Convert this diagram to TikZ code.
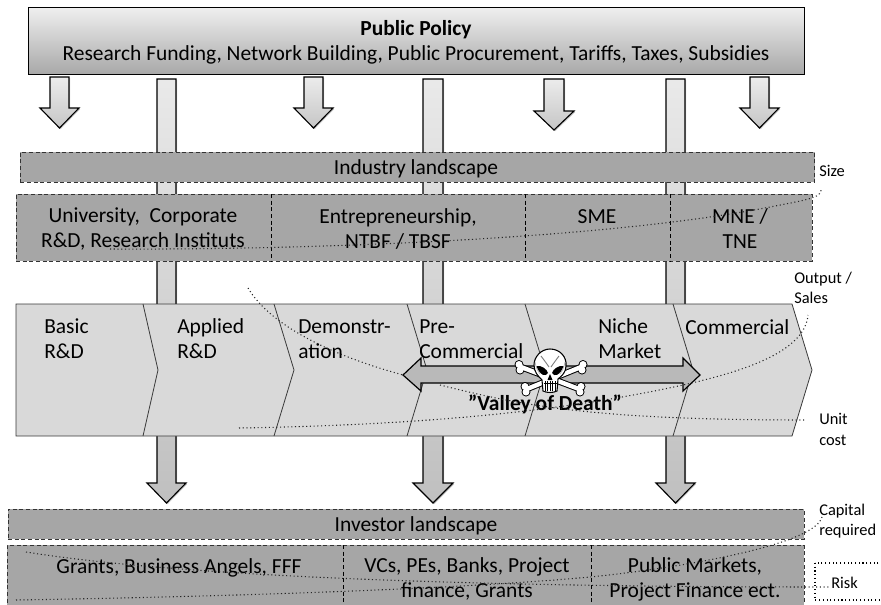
\documentclass[tikz,border=0pt]{standalone}
\usepackage{fontspec}
\setmainfont{Carlito}
\usetikzlibrary{shadows,calc}
\definecolor{bandgray}{HTML}{A6A6A6}
\definecolor{chevgray}{HTML}{D9D9D9}
\definecolor{linegray}{HTML}{3A3A3A}
\newcommand{\mainsize}{\fontsize{16.1}{18.8}\selectfont}
\newcommand{\smallsize}{\fontsize{12.3}{15.5}\selectfont}
% x-left of shaft, x-right of shaft, top, head start, tip
\newcommand{\blockarrow}[6][]{%
  \path[draw=black,line width=0.85pt,#1]
    (#2,#4) -- (#3,#4) -- (#3,#5) -- ({#3+10},#5) -- ({(#2+#3)/2},#6) -- ({#2-10},#5) -- (#2,#5) -- cycle;}
\tikzset{
  softshadow/.style={drop shadow={shadow xshift=0.8pt,shadow yshift=-0.9pt,opacity=.22,fill=black}},
  policybox/.style={draw=black,line width=0.75pt,top color=gray!12,bottom color=gray!68,inner sep=0pt,softshadow,align=center,font=\mainsize},
  longarrow/.style={top color=gray!17,bottom color=gray!50,softshadow},
  shortarrow/.style={top color=gray!15,bottom color=gray!45,softshadow},
  bandbox/.style={draw=black!80,densely dashed,line width=0.55pt,fill=bandgray,inner sep=0pt},
  bandtext/.style={font=\mainsize,inner sep=0pt},
  celltext/.style={font=\mainsize,align=center,inner sep=0pt},
  leftlabel/.style={font=\mainsize,align=left,anchor=west,inner sep=0pt},
  sidelabel/.style={font=\smallsize,align=left,anchor=west,inner sep=0pt},
  divider/.style={draw=black,densely dashed,line width=0.7pt},
  chevline/.style={draw=linegray,line width=0.6pt},
  curve/.style={draw=black!85,dotted,line width=0.8pt}
}
\newcommand{\bone}[4]{%
  \foreach \pass/\col/\w/\r in {0/black/6.4/4.5,1/white/4.4/3.5}{%
    \draw[\col,line width=\w*0.75pt] (#1,#2) -- (#3,#4);
    \fill[\col] ($(#1,#2)+(-2,-2.5)$) circle[radius=\r];
    \fill[\col] ($(#1,#2)+(-1,3)$) circle[radius=\r];
    \fill[\col] ($(#3,#4)+(2,-2.5)$) circle[radius=\r];
    \fill[\col] ($(#3,#4)+(1,3)$) circle[radius=\r];
  }}
\begin{document}
\begin{tikzpicture}[x=0.75pt,y=-0.75pt]
\useasboundingbox (0,0) rectangle (881,604);
\clip (0,0) rectangle (881,604);

% long arrows behind everything
\blockarrow[longarrow]{157}{176}{79}{483}{503}
\blockarrow[longarrow]{423}{443}{79}{483}{503}
\blockarrow[longarrow]{666}{685}{79}{483}{503}

% policy box and short arrows
\node[policybox,minimum width=582pt,minimum height=50.25pt] (policy) at (416,40.5) {};
\node[celltext] (policytext) at (416,42) {\textbf{Public Policy}\\Research Funding, Network Building, Public Procurement, Tariffs, Taxes, Subsidies};
\blockarrow[shortarrow]{50}{69}{77}{108}{128}
\blockarrow[shortarrow]{304}{323}{77}{108}{128}
\blockarrow[shortarrow]{544}{564}{79}{111}{130}
\blockarrow[shortarrow]{750}{769}{77}{108}{128}

% industry
\node[bandbox,minimum width=596pt,minimum height=22.5pt] (industry) at (417.5,167) {};
\node[bandtext] (industrytext) at (416,169) {Industry landscape};
\node[bandbox,minimum width=597pt,minimum height=50.25pt,line width=0.75pt] (industryrow) at (414,227.5) {};
\draw[divider] (271,194) -- (271,261);
\draw[divider] (525,194) -- (525,261);
\draw[divider] (670,194) -- (670,261);
\node[celltext] (univ) at (143,229) {University,\ \ Corporate\\R\&D, Research Instituts};
\node[celltext] (entre) at (398,229) {Entrepreneurship,\\NTBF / TBSF};
\node[celltext] (sme) at (597,217) {SME};
\node[celltext] (mne) at (740,229) {MNE /\\TNE};

% chevron band
\path[fill=chevgray,chevline] (16,304) -- (792,304) -- (812,370) -- (792,436) -- (16,436) -- cycle;
\draw[chevline] (143,304) -- (158,370) -- (143,436);
\draw[chevline] (274,304) -- (294,370) -- (274,436);
\draw[chevline] (407,304) -- (427,370) -- (407,436);
\draw[chevline] (525,304) -- (545,370) -- (525,436);
\draw[chevline] (673,304) -- (693,370) -- (673,436);
\node[leftlabel] (basic) at (44,339) {Basic\\R\&D};
\node[leftlabel] (applied) at (177,339) {Applied\\R\&D};
\node[leftlabel] (demo) at (298,339) {Demonstr-\\ation};
\node[leftlabel] (pre) at (419,339) {Pre-\\Commercial};
\node[leftlabel] (niche) at (598,339) {Niche\\Market};
\node[leftlabel] (comm) at (685,327) {Commercial};

% valley double arrow
\path[draw=black,line width=0.9pt,fill=gray!55!white]
  (403,375) -- (421,358) -- (421,366) -- (683,366) -- (683,358) -- (700,375) -- (683,391) -- (683,383) -- (421,383) -- (421,391) -- cycle;

\node[font=\mainsize\bfseries,inner sep=0pt] (valley) at (545,404) {”Valley of Death”};

% investor
\node[bandbox,minimum width=597pt,minimum height=22.5pt] (investor) at (406,524) {};
\node[bandtext] (investortext) at (416,526) {Investor landscape};
\node[bandbox,minimum width=597.5pt,minimum height=50pt,anchor=north west] (investorrow) at (7,545) {};
\draw[divider,line width=0.5pt] (343,545) -- (343,604);
\draw[divider,line width=0.5pt] (591,545) -- (591,604);
\node[celltext] (grants) at (179,568) {Grants, Business Angels, FFF};
\node[celltext] (vcs) at (467,579) {VCs, PEs, Banks, Project\\finance, Grants};
\node[celltext] (public) at (695,579) {Public Markets,\\Project Finance ect.};

% side labels
\node[sidelabel] (size) at (819,171) {Size};
\node[sidelabel] (output) at (794,288) {Output /\\Sales};
\node[sidelabel] (unit) at (819,429.5) {Unit\\cost};
\node[sidelabel] (capital) at (819,521) {Capital\\required};
\node[sidelabel] (risklabel) at (831,583) {Risk};
\draw[draw=black,dotted,line width=0.8pt] (815,563) rectangle (890,600);

% dotted trend curves
\coordinate (sizeend) at (821,189);
\draw[curve] (110,249) .. controls (300,250) and (600,240) .. (770,207) .. controls (800,201) and (824,198) .. (sizeend);
\coordinate (unitstart) at (248,288);
\coordinate (unitend) at (805,420);
\draw[curve] (unitstart) .. controls (270,325) and (330,355) .. (403,375);
\draw[curve] (440,385) .. controls (520,405) and (590,420) .. (unitend);
\coordinate (outstart) at (239,428);
\coordinate (outend) at (808,315);
\draw[curve] (outstart) .. controls (420,425) and (560,412) .. (683,385) .. controls (750,370) and (805,350) .. (outend);
\coordinate (capend) at (822,517);
\draw[curve] (16,600) .. controls (200,597) and (450,590) .. (590,577) .. controls (680,568) and (815,545) .. (capend);
\coordinate (riskend) at (829,587);
\draw[curve] (26,552) .. controls (150,572) and (400,587) .. (riskend);

% skull and crossbones
\bone{527}{389}{581}{367}
\bone{521}{367}{579}{389}
\path[draw=black,line width=0.8pt,fill=white]
  (550,349) .. controls (560,349) and (567,357) .. (566,366)
  .. controls (566,372) and (562,376) .. (558,379)
  -- (557,391) .. controls (553,393) and (547,393) .. (543,391) -- (542,380)
  .. controls (538,376) and (534,372) .. (534,365)
  .. controls (534,357) and (541,349) .. cycle;
% brow shading
\draw[gray,line width=0.7pt] (541,356) .. controls (544,360) and (547,364) .. (549,367);
\draw[gray,line width=0.7pt] (559,356) .. controls (556,360) and (553,364) .. (551,367);
\draw[gray!60,line width=0.5pt] (535,362) .. controls (536,368) and (538,371) .. (540,374);
\draw[gray!60,line width=0.5pt] (565,362) .. controls (564,368) and (562,371) .. (560,374);
% eyes
\fill[black] (536.5,366) .. controls (541,365) and (547,369) .. (548,373) .. controls (546,377) and (540,376) .. cycle;
\fill[black] (563.5,366) .. controls (559,365) and (553,369) .. (552,373) .. controls (554,377) and (560,376) .. cycle;
% nose
\fill[black] (550,374) -- (552.5,380) -- (547.5,380) -- cycle;
% teeth
\draw[black,line width=0.5pt] (543.5,383) -- (556.5,383);
\foreach \tx in {545,547.5,550,552.5,555}{\draw[black,line width=0.4pt] (\tx,381) -- (\tx,391);}
\end{tikzpicture}
\end{document}
